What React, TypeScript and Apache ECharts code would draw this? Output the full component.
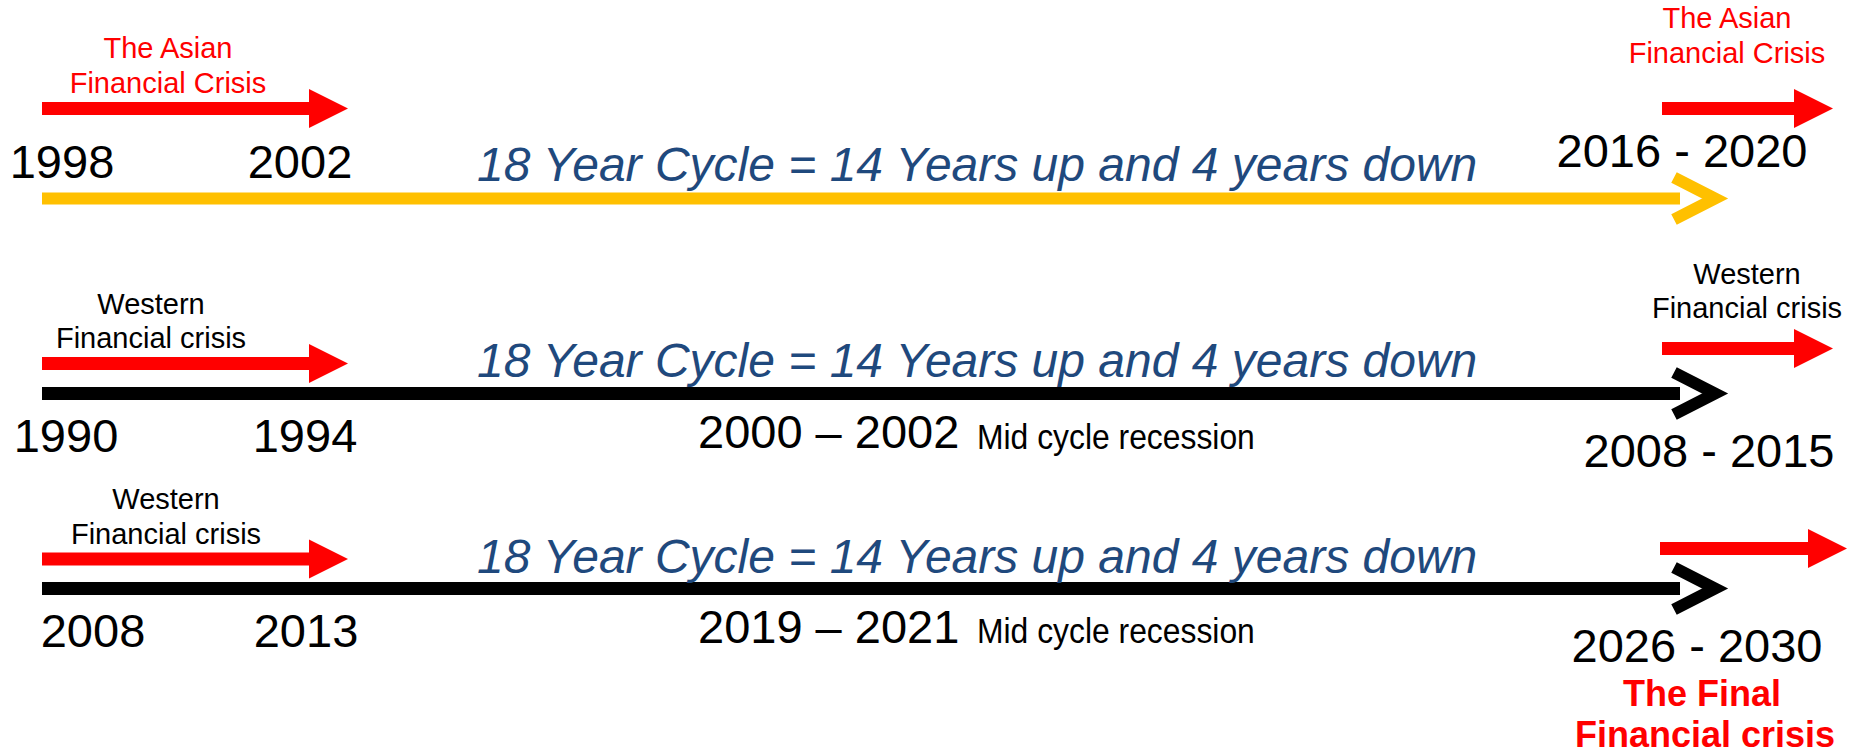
import React, { useEffect, useRef } from "react";
import * as echarts from "echarts";

// ---- content ----
const startYears = ["1998", "1990", "2008"];
const endYears = ["2002", "1994", "2013"];
const crisisLabels = [
  ["The Asian", "Financial Crisis"],
  ["Western", "Financial crisis"],
  ["Western", "Financial crisis"],
];
const cycleTexts = [
  "18 Year Cycle = 14 Years up and 4 years down",
  "18 Year Cycle = 14 Years up and 4 years down",
  "18 Year Cycle = 14 Years up and 4 years down",
];
const midCycleRanges = ["", "2000 – 2002", "2019 – 2021"];
const midCycleNote = "Mid cycle recession";
const nextRanges = ["2016 - 2020", "2008 - 2015", "2026 - 2030"];
const nextLabels = [
  ["The Asian", "Financial Crisis"],
  ["Western", "Financial crisis"],
  [],
];
const finalLabels = ["The Final", "Financial crisis"];

// ---- styles ----
const RED = "#FF0000";
const YELLOW = "#FFC000";
const BLUE = "#1F497D";
const BLACK = "#000000";
const FONT = "'Liberation Sans', Arial, Helvetica, sans-serif";
const crisisColors = [RED, BLACK, BLACK];
const lineColors = [YELLOW, BLACK, BLACK];

// ---- layout (pixels) ----
const layout = [
  {
    leftArrowY: 108.5, crisisX: 168, crisisY: [47.5, 83],
    yearsY: 161.5, startX: 62, endX: 300,
    lineY: 198.5, lineH: 12, titleY: 164, midY: 0, noteY: 0,
    rArrowX0: 1662, rArrowX1: 1833, rArrowY: 108.5,
    nextX: 1727, nextY: [17.5, 53], rangeX: 1682, rangeY: 150,
  },
  {
    leftArrowY: 363.5, crisisX: 151, crisisY: [304, 338],
    yearsY: 435, startX: 66, endX: 305,
    lineY: 393.5, lineH: 13, titleY: 360, midY: 431.5, noteY: 437,
    rArrowX0: 1662, rArrowX1: 1833, rArrowY: 348.5,
    nextX: 1747, nextY: [274, 307.5], rangeX: 1709, rangeY: 450,
  },
  {
    leftArrowY: 559, crisisX: 166, crisisY: [499, 534],
    yearsY: 630, startX: 93, endX: 306,
    lineY: 588.5, lineH: 13, titleY: 556, midY: 626.5, noteY: 631,
    rArrowX0: 1660, rArrowX1: 1847, rArrowY: 548.5,
    nextX: 1747, nextY: [], rangeX: 1697, rangeY: 645,
  },
];

function arrow(x0: number, x1: number, cy: number, color: string) {
  const sh = 6.5;
  const hh = 19.5;
  const hl = 39;
  const xh = x1 - hl;
  return {
    type: "polygon",
    shape: {
      points: [
        [x0, cy - sh], [xh, cy - sh], [xh, cy - hh], [x1, cy],
        [xh, cy + hh], [xh, cy + sh], [x0, cy + sh],
      ],
    },
    style: { fill: color },
  };
}

function txt(
  text: string, x: number, y: number, size: number, color: string,
  align = "center", extra: any = {}, elExtra: any = {}
) {
  return {
    type: "text",
    x, y,
    ...elExtra,
    style: {
      text,
      fontSize: size,
      fontFamily: FONT,
      fill: color,
      align,
      verticalAlign: "middle",
      textAlign: align,
      textVerticalAlign: "middle",
      ...extra,
    },
  };
}

function buildGraphics() {
  const els: any[] = [];
  layout.forEach((L, i) => {
    // left crisis arrow and label
    els.push(arrow(42, 348, L.leftArrowY, RED));
    crisisLabels[i].forEach((t, j) => els.push(txt(t, L.crisisX, L.crisisY[j], 29, crisisColors[i])));
    // years
    els.push(txt(startYears[i], L.startX, L.yearsY, 47, BLACK));
    els.push(txt(endYears[i], L.endX, L.yearsY, 47, BLACK));
    // main timeline
    els.push({
      type: "rect",
      shape: { x: 42, y: L.lineY - L.lineH / 2, width: 1638, height: L.lineH },
      style: { fill: lineColors[i] },
    });
    els.push({
      type: "polyline",
      shape: { points: [[1674, L.lineY - 21], [1715, L.lineY], [1674, L.lineY + 21]] },
      style: { stroke: lineColors[i], lineWidth: 12, lineJoin: "miter", lineCap: "butt", fill: null },
    });
    // cycle title
    els.push(txt(cycleTexts[i], 477, L.titleY, 48, BLUE, "left", { fontStyle: "italic" }));
    // mid cycle
    if (midCycleRanges[i]) {
      els.push(txt(midCycleRanges[i], 698, L.midY, 47, BLACK, "left"));
      els.push(txt(midCycleNote, 977, L.noteY, 35, BLACK, "left", {}, { scaleX: 0.91 }));
    }
    // right arrow and labels
    els.push(arrow(L.rArrowX0, L.rArrowX1, L.rArrowY, RED));
    nextLabels[i].forEach((t, j) => els.push(txt(t, L.nextX, L.nextY[j], 29, crisisColors[i])));
    els.push(txt(nextRanges[i], L.rangeX, L.rangeY, 47, BLACK));
  });
  els.push(txt(finalLabels[0], 1702, 693.5, 36, RED, "center", { fontWeight: "bold" }));
  els.push(txt(finalLabels[1], 1705, 734, 36, RED, "center", { fontWeight: "bold" }));
  return els;
}

export default function App() {
  const ref = useRef<HTMLDivElement>(null);
  useEffect(() => {
    document.body.style.margin = "0";
    document.body.style.overflow = "hidden";
    const chart = echarts.init(ref.current!, undefined, { renderer: "svg" });
    chart.setOption({
      animation: false,
      backgroundColor: "#FFFFFF",
      graphic: { elements: buildGraphics() },
    });
    return () => chart.dispose();
  }, []);
  return <div ref={ref} style={{ width: 1849, height: 755 }} />;
}
